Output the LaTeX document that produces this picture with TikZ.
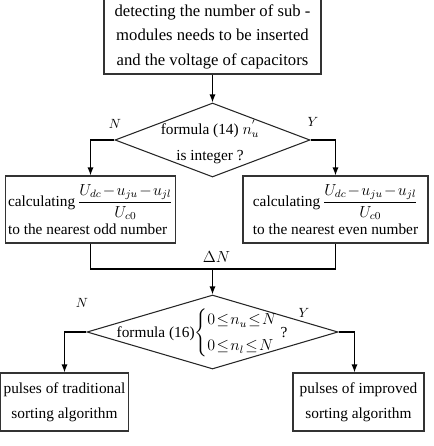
\documentclass[tikz,border=0pt]{standalone}
\usepackage{amsmath}
\usepackage{fontspec}
\setmainfont{Liberation Serif}
\usepackage{tikz}
\usetikzlibrary{positioning,arrows.meta,shapes.geometric}

\tikzset{
  stepbox/.style={draw=black!80, line width=0.8pt, minimum height=50.25pt, inner sep=2pt},
  decision/.style={draw=black!85, line width=0.8pt, diamond, inner sep=0pt},
  flow/.style={line width=0.8pt, -{Latex[length=6pt,width=4.5pt]}},
  branch/.style={font=\itshape}
}
\newcommand{\ratio}{\medmuskip=1.5mu\dfrac{U_{dc}-u_{ju}-u_{jl}}{U_{c0}}}

\begin{document}
\begin{tikzpicture}[x=0.75pt, y=-0.75pt, font=\fontsize{11.5}{18.4}\selectfont]
				\useasboundingbox (0,0) rectangle (434,446);
				
				% top box
				\node[stepbox, minimum width=162.75pt, minimum height=56.25pt, align=center,
				  font=\fontsize{12.5}{18.4}\selectfont] (detect) at (212.5,36.5)
				  {detecting the number of sub -\\modules needs to be inserted\\and the voltage of capacitors};
				
				% first decision
				\node[decision, minimum width=146.25pt, minimum height=55.5pt] (isint) at (212.5,140) {};
				\node[align=center, font=\fontsize{11.5}{20}\selectfont] (isinttxt) at (210,142) {formula (14) $n_u^{'}$\\is integer ?};
				
				\node[stepbox, minimum width=125.25pt, align=left] (odd) at (90.5,209.5)
				  {calculating\,$\ratio$\\[3pt] to the nearest odd number};
				\node[stepbox, minimum width=138.75pt, align=left] (even) at (335.5,209.5)
				  {calculating\,$\ratio$\\[3pt] to the nearest even number};
				
				% second decision
				\node[decision, minimum width=188.25pt, minimum height=55.5pt] (range) at (212.5,332) {};
				\node (rangetxt) at (202,333) {formula\ (16)$\thickmuskip=1.5mu\left\{\begin{array}{@{}l@{}}0\le n_u\le N\\[1pt] 0\le n_l\le N\end{array}\right.$\,?};
				
				\node[stepbox, minimum width=96pt, minimum height=43.5pt, align=center] (trad) at (64.5,402)
				  {pulses of traditional\\sorting algorithm};
				\node[stepbox, minimum width=98.25pt, minimum height=43.5pt, align=center] (impr) at (358.5,402)
				  {pulses of improved\\sorting algorithm};
				
				\coordinate (merge) at (212.5,269);
				
				\draw[flow] (detect) -- (isint);
				\draw[flow] (isint.west) -| (odd.north);
				\draw[flow] (isint.east) -| (even.north);
				\draw[line width=0.8pt] (odd.south) |- (merge) -| (even.south);
				\draw[flow] (merge) node[above=1pt, xshift=3pt] (dn) {$\Delta N$} -- (range.north);
				\draw[flow] (range.west) -| (trad.north);
				\draw[flow] (range.east) -| ([xshift=-3pt]impr.north);
				
				\node[branch] (n1) at (115,124) {$N$};
				\node[branch] (y1) at (313,122) {$Y$};
				\node[branch] (n2) at (82,303) {$N$};
				\node[branch] (y2) at (304,313) {$Y$};
			\end{tikzpicture}
\end{document}
